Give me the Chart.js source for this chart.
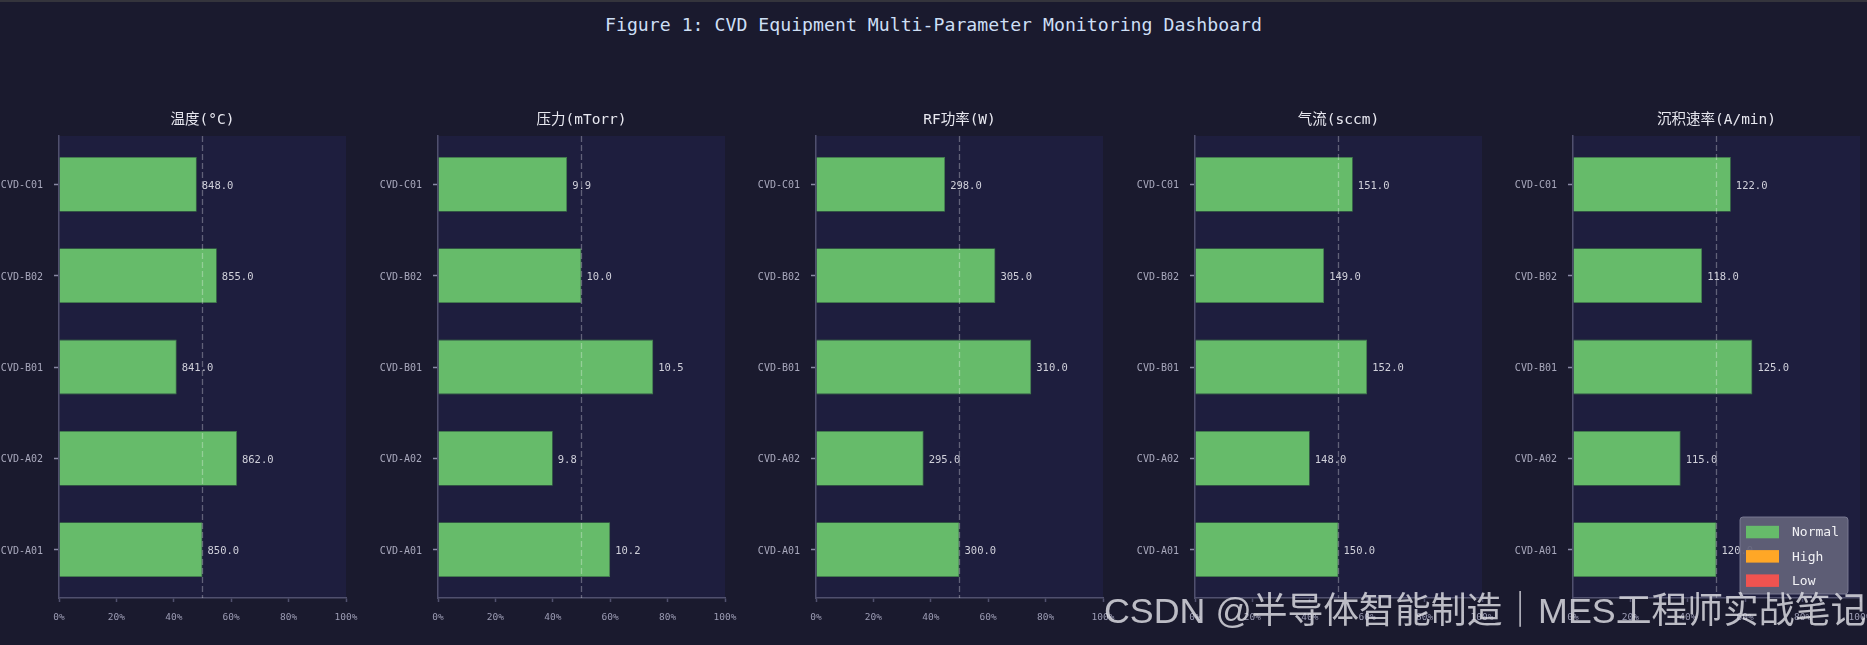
<!DOCTYPE html>
<html>
<head>
<meta charset="utf-8">
<script src="https://cdn.jsdelivr.net/npm/chart.js@4.4.1/dist/chart.umd.min.js"></script>
<style>
  html, body { margin: 0; padding: 0; background: #1a1a2e; overflow: hidden; }
  #page { position: relative; width: 1867px; height: 645px; background: #1a1a2e; }
  #topline { position: absolute; left: 0; top: 0; width: 1867px; height: 2px; background: #34343c; }
  #title { position: absolute; left: 0; top: 14px; width: 1867px; text-align: center;
           font: 18.2px 'DejaVu Sans Mono', 'Noto Sans CJK SC', monospace; color: #cddff5; white-space: pre; }
  .panel { position: absolute; top: 100px; }
  #mark { position: absolute; left: 1104px; top: 581px; white-space: nowrap;
          font: 35.8px 'Liberation Sans', 'Noto Sans CJK SC', sans-serif; color: rgba(225,225,230,0.82); }
</style>
</head>
<body>
<div id="page">
  <div id="topline"></div>
  <div id="title">Figure 1: CVD Equipment Multi-Parameter Monitoring Dashboard</div>
  <canvas class="panel" id="p0" width="378" height="538" style="left:0px"></canvas>
  <canvas class="panel" id="p1" width="378" height="538" style="left:379px"></canvas>
  <canvas class="panel" id="p2" width="378" height="538" style="left:757px"></canvas>
  <canvas class="panel" id="p3" width="378" height="538" style="left:1136px"></canvas>
  <canvas class="panel" id="p4" width="378" height="538" style="left:1514px"></canvas>
  <div id="mark">CSDN @半导体智能制造｜MES工程师实战笔记</div>
</div>
<script>
// equipment, bottom to top as drawn
const tools = ['CVD-A01', 'CVD-A02', 'CVD-B01', 'CVD-B02', 'CVD-C01'];
const panelTitles = ['温度(°C)', '压力(mTorr)', 'RF功率(W)', '气流(sccm)', '沉积速率(A/min)'];

// raw readings (shown as labels)
const tempValues = [850.0, 862.0, 841.0, 855.0, 848.0];
const pressureValues = [10.2, 9.8, 10.5, 10.0, 9.9];
const rfValues = [300.0, 295.0, 310.0, 305.0, 298.0];
const gasValues = [150.0, 148.0, 152.0, 149.0, 151.0];
const depValues = [120.0, 115.0, 125.0, 118.0, 122.0];

// bar lengths in % of range
const tempPct = [50, 62, 41, 55, 48];
const pressurePct = [60, 40, 75, 50, 45];
const rfPct = [50, 37.5, 75, 62.5, 45];
const gasPct = [50, 40, 60, 45, 55];
const depPct = [50, 37.5, 62.5, 45, 55];

const xTicks = [0, 20, 40, 60, 80, 100];
const targetPct = 50;
const legendLabels = ['Normal', 'High', 'Low'];
const legendColors = ['#66bb6a', '#ffa726', '#ef5350'];

const MONO = "'DejaVu Sans Mono', 'Noto Sans CJK SC', monospace";
const AXIS = '#50506e';

const panels = [
  { title: panelTitles[0], values: tempValues, pct: tempPct },
  { title: panelTitles[1], values: pressureValues, pct: pressurePct },
  { title: panelTitles[2], values: rfValues, pct: rfPct },
  { title: panelTitles[3], values: gasValues, pct: gasPct },
  { title: panelTitles[4], values: depValues, pct: depPct, legend: true },
];

const panelPlugin = {
  id: 'panel',
  beforeDraw(chart) {
    const { ctx, chartArea: a } = chart;
    ctx.save();
    ctx.fillStyle = '#1e1e3e';
    ctx.fillRect(a.left, a.top, a.right - a.left, a.bottom - a.top);
    ctx.restore();
  },
  afterDatasetsDraw(chart, args, opts) {
    const { ctx, chartArea: a } = chart;
    const x = chart.scales.x.getPixelForValue(targetPct);
    ctx.save();
    // subplot title, centred over the axes
    ctx.font = '14.5px ' + MONO;
    ctx.fillStyle = '#e8e8f0';
    ctx.textAlign = 'center';
    ctx.textBaseline = 'middle';
    ctx.fillText(opts.title, (a.left + a.right) / 2, a.top - 16);

    // target line
    ctx.strokeStyle = 'rgba(255,255,255,0.3)';
    ctx.lineWidth = 1.3;
    ctx.setLineDash([6, 3]);
    ctx.beginPath();
    ctx.moveTo(x, a.top);
    ctx.lineTo(x, a.bottom);
    ctx.stroke();
    ctx.setLineDash([]);

    // value labels
    ctx.font = '10.5px ' + MONO;
    ctx.fillStyle = '#d0d0da';
    ctx.textAlign = 'left';
    chart.getDatasetMeta(0).data.forEach((bar, i) => {
      ctx.fillText(opts.values[i].toFixed(1), bar.x + 5, bar.y + 1.5);
    });

    if (opts.legend) {
      const w = 108, h = 77;
      const left = a.right - 12 - w, top = a.bottom - 4 - h;
      ctx.fillStyle = 'rgba(98,98,122,0.93)';
      ctx.strokeStyle = 'rgba(125,125,150,0.9)';
      ctx.lineWidth = 1;
      ctx.beginPath();
      ctx.roundRect(left, top, w, h, 3);
      ctx.fill();
      ctx.stroke();
      ctx.font = '13px ' + MONO;
      legendLabels.forEach((lab, i) => {
        const cy = top + 15 + i * 24.3;
        ctx.fillStyle = legendColors[i];
        ctx.fillRect(left + 6, cy - 6.2, 33, 12.5);
        ctx.fillStyle = '#f2f2f5';
        ctx.fillText(lab, left + 52, cy + 1);
      });
    }
    ctx.restore();
  }
};

panels.forEach((p, k) => {
  new Chart(document.getElementById('p' + k), {
    type: 'bar',
    data: {
      datasets: [{
        data: p.pct.map((v, i) => ({ x: v, y: i })),
        backgroundColor: legendColors[0],
        borderColor: 'rgba(70,140,75,0.9)',
        borderWidth: 0.8,
        barPercentage: 0.6,
        categoryPercentage: 1
      }]
    },
    options: {
      indexAxis: 'y',
      responsive: false,
      animation: false,
      layout: { padding: { left: 0, right: 32, top: 36, bottom: 0 } },
      plugins: {
        legend: { display: false },
        tooltip: { enabled: false },
        title: { display: false },
        panel: { title: p.title, values: p.values, legend: !!p.legend }
      },
      scales: {
        x: {
          type: 'linear',
          min: 0,
          max: 100,
          afterFit: s => { s.height = 40; },
          afterBuildTicks: s => { s.ticks = xTicks.map(v => ({ value: v })); },
          ticks: {
            callback: v => v + '%',
            color: '#9c9cb4',
            font: { family: MONO, size: 9.5 },
            padding: 10,
            maxRotation: 0,
            autoSkip: false
          },
          grid: { drawOnChartArea: false, drawTicks: true, tickLength: 4, tickColor: AXIS, tickWidth: 1.5 },
          border: { display: true, color: AXIS, width: 1.5 }
        },
        y: {
          type: 'linear',
          offset: false,
          min: -0.53,
          max: 4.53,
          afterFit: s => { s.width = 59; },
          afterBuildTicks: s => { s.ticks = tools.map((t, i) => ({ value: i })); },
          ticks: {
            callback: v => tools[v],
            color: '#a8a8bc',
            font: { family: MONO, size: 10 },
            padding: 11,
            labelOffset: 1.5,
            autoSkip: false
          },
          grid: { offset: false, drawOnChartArea: false, drawTicks: true, tickLength: 5, tickColor: '#8a8aa4', tickWidth: 1.5 },
          border: { display: true, color: AXIS, width: 1.5 }
        }
      }
    },
    plugins: [panelPlugin]
  });
});
</script>
</body>
</html>
